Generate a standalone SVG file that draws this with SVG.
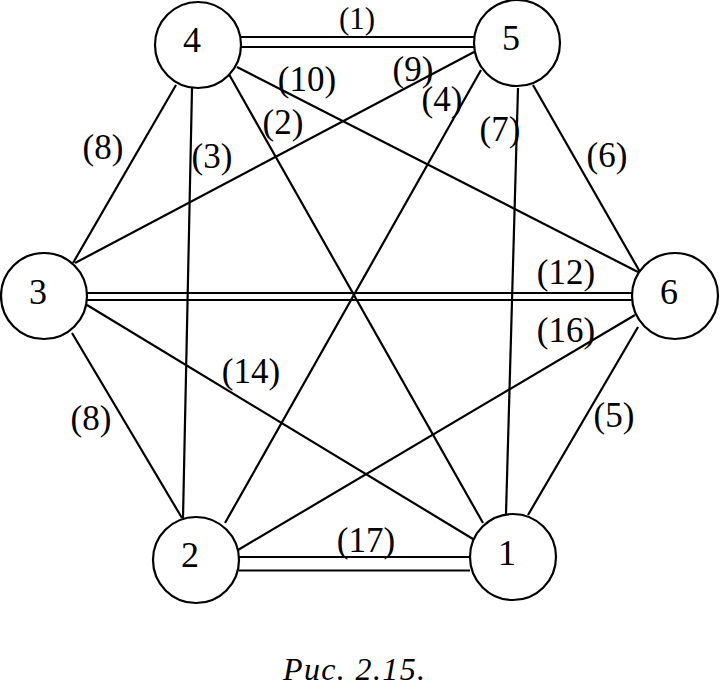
<svg xmlns="http://www.w3.org/2000/svg" width="720" height="686" viewBox="0 0 720 686">
<style>
.e{stroke:#000;stroke-width:2.2;fill:none;stroke-linecap:butt}
.n circle{fill:#fff;stroke:#000;stroke-width:2.2}
text{font-family:"Liberation Serif","Times New Roman",serif;fill:#000;text-anchor:middle}
.nt{font-size:36px}
.lb text{font-size:35px}
.lb text.top{font-size:31px}
.cap{font-size:32px;font-style:italic;text-anchor:start}
</style>
<rect width="720" height="686" fill="#fff"/>
<g id="connectors">
<line class="e" x1="240" y1="37" x2="475" y2="37"/>
<line class="e" x1="240" y1="47" x2="475" y2="47"/>
<line class="e" x1="87" y1="293" x2="633" y2="293"/>
<line class="e" x1="87" y1="300" x2="633" y2="300"/>
<line class="e" x1="239" y1="557" x2="470" y2="557"/>
<line class="e" x1="239" y1="570.5" x2="470" y2="570.5"/>
<line class="e" x1="176" y1="85" x2="73" y2="263"/>
<line class="e" x1="192" y1="88" x2="183" y2="518"/>
<line class="e" x1="226" y1="69" x2="483" y2="523"/>
<line class="e" x1="237" y1="67" x2="638" y2="272"/>
<line class="e" x1="474" y1="52" x2="75" y2="263"/>
<line class="e" x1="481" y1="70" x2="225" y2="523"/>
<line class="e" x1="518" y1="88" x2="506" y2="514"/>
<line class="e" x1="533" y1="85" x2="640" y2="272"/>
<line class="e" x1="72" y1="333" x2="182" y2="518"/>
<line class="e" x1="87" y1="305" x2="473" y2="539"/>
<line class="e" x1="635" y1="315" x2="238" y2="550"/>
<line class="e" x1="638" y1="327" x2="528" y2="515"/>
</g>
<g id="labels" class="lb">
<text class="top" x="357" y="29">(1)</text>
<text x="307" y="91">(10)</text>
<text x="413" y="81">(9)</text>
<text x="442" y="111">(4)</text>
<text x="283" y="134">(2)</text>
<text x="212" y="168">(3)</text>
<text x="500" y="141">(7)</text>
<text x="103" y="159">(8)</text>
<text x="607" y="167">(6)</text>
<text x="566" y="284">(12)</text>
<text x="566" y="342">(16)</text>
<text x="251" y="383">(14)</text>
<text x="91" y="430">(8)</text>
<text x="614" y="427">(5)</text>
<text x="366" y="552">(17)</text>
</g>
<g id="node4" class="n"><circle cx="198" cy="45" r="43"/><text class="nt" x="192" y="52">4</text></g>
<g id="node5" class="n"><circle cx="517" cy="43" r="43"/><text class="nt" x="511" y="50">5</text></g>
<g id="node3" class="n"><circle cx="44" cy="296" r="43"/><text class="nt" x="38" y="304">3</text></g>
<g id="node6" class="n"><circle cx="675" cy="296" r="43"/><text class="nt" x="669" y="304">6</text></g>
<g id="node2" class="n"><circle cx="196" cy="560" r="43"/><text class="nt" x="190" y="567">2</text></g>
<g id="node1" class="n"><circle cx="513" cy="557" r="43"/><text class="nt" x="507" y="565">1</text></g>
<text class="cap" x="283" y="680" textLength="142" lengthAdjust="spacing">Рис. 2.15.</text>
</svg>
